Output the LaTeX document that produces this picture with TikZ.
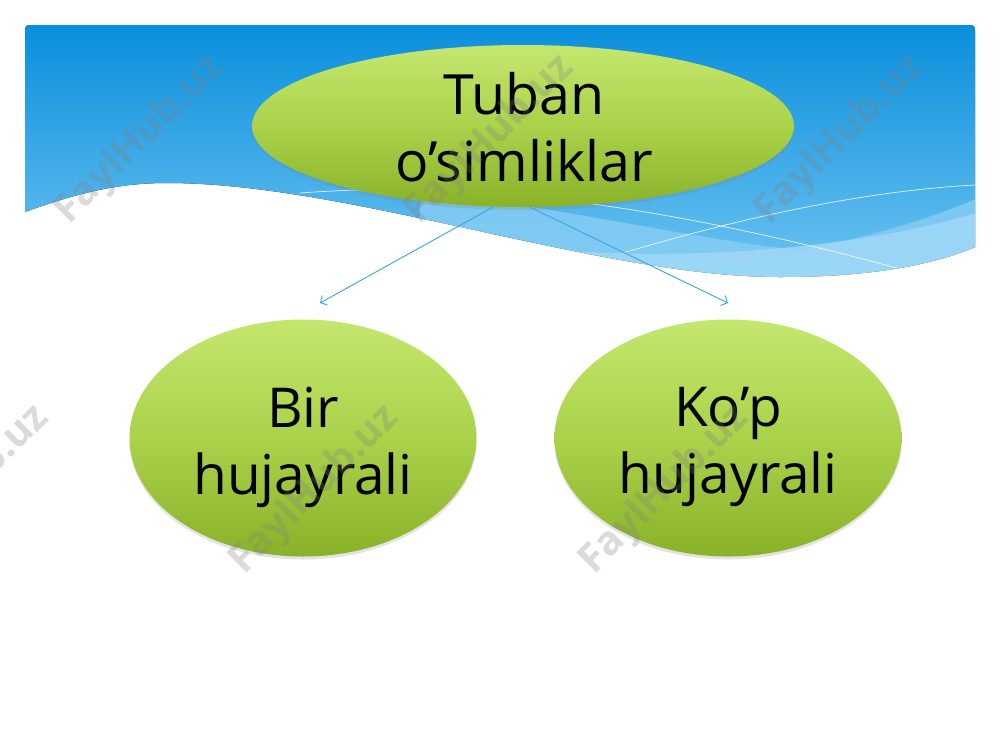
\documentclass[tikz,border=0pt]{standalone}
\usepackage{fontspec}
\setmainfont{Open Sans}
\usetikzlibrary{shapes.geometric,arrows.meta,shadows}
\definecolor{hdrtop}{HTML}{0A8FDC}
\definecolor{hdrbot}{HTML}{6CC3F1}
\definecolor{bandA}{HTML}{8ACFF5}
\definecolor{bandB}{HTML}{A6DBF8}
\definecolor{grtop}{HTML}{C4E76E}
\definecolor{grmid}{HTML}{AAD24A}
\definecolor{grbot}{HTML}{8AB229}
\definecolor{arr}{HTML}{36A5E6}
\def\hdrpath{(25,212) -- (25,34) .. controls (25,25) .. (34,25) -- (966,25) .. controls (975,25) .. (975,34) -- (975,247) .. controls (940,262) and (880,277) .. (780,277) .. controls (600,277) and (350,183) .. (167,183) .. controls (120,183) and (80,192) .. (25,212) -- cycle}
\begin{document}
\begin{tikzpicture}[x=1pt,y=-1pt,
 bubble/.style={ellipse, draw=none, inner sep=0pt, top color=grtop, bottom color=grbot, middle color=grmid,
   drop shadow={opacity=0.22, shadow xshift=0pt, shadow yshift=-3pt}},
 lbl/.style={align=center, text=black, inner sep=0pt},
 conn/.style={draw=arr, line width=0.9pt, -{Straight Barb[length=5pt,width=11pt]}},
 wm/.style={rotate=45, font=\bfseries\fontsize{40}{40}\selectfont, text=gray, opacity=0.28},
 wline/.style={white, line width=0.7pt, opacity=0.85}]
\useasboundingbox (0,0) rectangle (1000,750);
\fill[white] (0,0) rectangle (1000,750);
% header
\fill[top color=hdrtop, bottom color=hdrbot] \hdrpath;
\begin{scope}
  \clip \hdrpath;
  \fill[bandA, opacity=0.75] (420,190) .. controls (600,215) and (700,240) .. (800,250) .. controls (880,235) and (940,215) .. (985,195) -- (985,300) -- (420,300) -- cycle;
  \fill[bandB, opacity=0.7] (560,250) .. controls (700,262) and (880,245) .. (985,210) -- (985,300) -- (560,300) -- cycle;
  \draw[wline] (300,193) .. controls (500,178) and (700,215) .. (897,268);
  \draw[wline] (623,253) .. controls (760,212) and (880,190) .. (975,185);
\end{scope}
% bubbles
\node[bubble, minimum width=542pt, minimum height=162pt] (top) at (523,126) {};
\node[bubble, minimum width=347pt, minimum height=237pt] (left) at (303,438) {};
\node[bubble, minimum width=347pt, minimum height=237pt] (right) at (728,438) {};
\node[lbl, font=\fontsize{55.5}{67}\selectfont] (toplbl) at (524,127) {Tuban\\o’simliklar};
\node[lbl, font=\fontsize{55}{67}\selectfont] (leftlbl) at (303,447) {Bir\\hujayrali};
\node[lbl, font=\fontsize{55}{67}\selectfont] (rightlbl) at (728,447) {Ko’p\\hujayrali};
% connectors
\coordinate (la) at (320,303);
\coordinate (ra) at (728,303);
\draw[conn] (top.250) -- (la);
\draw[conn] (top.275) -- (ra);
% watermarks
\foreach \i/\x/\y in {1/140/140, 2/490/140, 3/840/140, 4/-35/490, 5/315/490, 6/665/490}
  \node[wm] (wm\i) at (\x,\y) {FaylHub.uz};
\end{tikzpicture}
\end{document}
